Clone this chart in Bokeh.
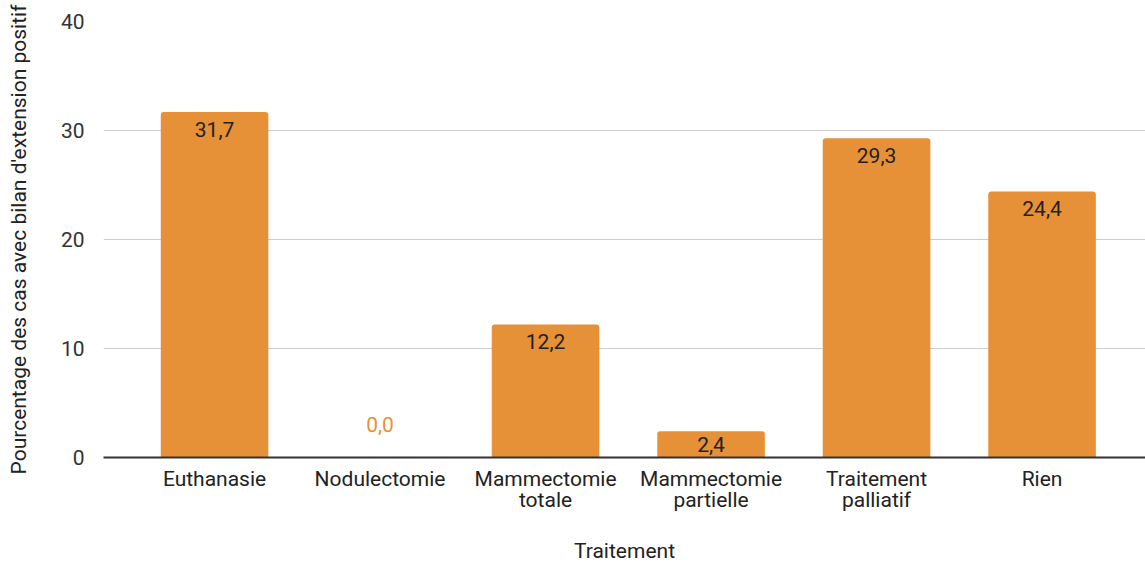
from bokeh.plotting import figure
from bokeh.models import ColumnDataSource, FixedTicker, Range1d
from bokeh.core.properties import value
from bokeh.embed import file_html
from bokeh.resources import INLINE

categories = ["Euthanasie", "Nodulectomie", "Mammectomie\ntotale", "Mammectomie\npartielle",
              "Traitement\npalliatif", "Rien"]
values = [31.7, 0.0, 12.2, 2.4, 29.3, 24.4]
y_ticks = [0, 10, 20, 30, 40]

BAR = "#E69138"
FONT = "Roboto"
FS = "21px"

xs = list(range(len(categories)))
labels = [f"{v:.1f}".replace(".", ",") for v in values]

pos = [i for i, v in enumerate(values) if v > 0]
zero = [i for i, v in enumerate(values) if v == 0]
# label centre: near the bar top, or mid-bar for short bars
lab_pos = ColumnDataSource(dict(x=[xs[i] for i in pos],
                                y=[max(values[i] / 2, values[i] - 1.6) for i in pos],
                                t=[labels[i] for i in pos]))
lab_zero = ColumnDataSource(dict(x=[xs[i] for i in zero], y=[values[i] for i in zero],
                                 t=[labels[i] for i in zero]))
src = ColumnDataSource(dict(x=xs, top=values))

p = figure(width=1145, height=567, output_backend="svg", toolbar_location=None,
           x_range=Range1d(-0.671, 5.625), y_range=Range1d(0, 40),
           min_border_left=103, min_border_right=0, min_border_top=21, min_border_bottom=110)
p.outline_line_color = None
p.background_fill_color = "white"
p.border_fill_color = "white"

p.vbar(x="x", top="top", width=0.65, source=src, fill_color=BAR, line_color=None,
       border_radius=(3, 3, 0, 0))

p.text(x="x", y="y", text="t", source=lab_pos, text_align="center", text_baseline="middle",
       text_font=value(FONT), text_font_size=FS, text_color="#222222")
p.text(x="x", y="y", text="t", source=lab_zero, text_align="center", text_baseline="middle",
       y_offset=-33, text_font=value(FONT), text_font_size=FS, text_color=BAR)

p.xaxis.ticker = FixedTicker(ticks=xs)
p.xaxis.major_label_overrides = {i: c for i, c in zip(xs, categories)}
p.xaxis.axis_line_color = "#333333"
p.xaxis.axis_line_width = 2
p.xaxis.major_tick_line_color = None
p.xaxis.minor_tick_line_color = None
p.xaxis.major_label_text_font = FONT
p.xaxis.major_label_text_font_size = FS
p.xaxis.major_label_text_color = "#222222"
p.xaxis.major_label_text_line_height = 0.9
p.xaxis.major_label_standoff = 3
p.xaxis.axis_label = "Traitement"
p.xaxis.axis_label_text_font = FONT
p.xaxis.axis_label_text_font_size = FS
p.xaxis.axis_label_text_font_style = "normal"
p.xaxis.axis_label_text_color = "#222222"
p.xaxis.axis_label_standoff = 24

p.yaxis.ticker = FixedTicker(ticks=y_ticks)
p.yaxis.axis_line_color = None
p.yaxis.major_tick_line_color = None
p.yaxis.minor_tick_line_color = None
p.yaxis.major_label_text_font = FONT
p.yaxis.major_label_text_font_size = FS
p.yaxis.major_label_text_color = "#333333"
p.yaxis.major_label_standoff = 13
p.yaxis.axis_label = "Pourcentage des cas avec bilan d'extension positif"
p.yaxis.axis_label_text_font = FONT
p.yaxis.axis_label_text_font_size = FS
p.yaxis.axis_label_text_font_style = "normal"
p.yaxis.axis_label_text_color = "#222222"
p.yaxis.axis_label_standoff = 27

p.xgrid.grid_line_color = None
p.ygrid.grid_line_color = "#cccccc"
p.ygrid.grid_line_width = 1

open("out.html", "w").write(file_html(p, INLINE))
